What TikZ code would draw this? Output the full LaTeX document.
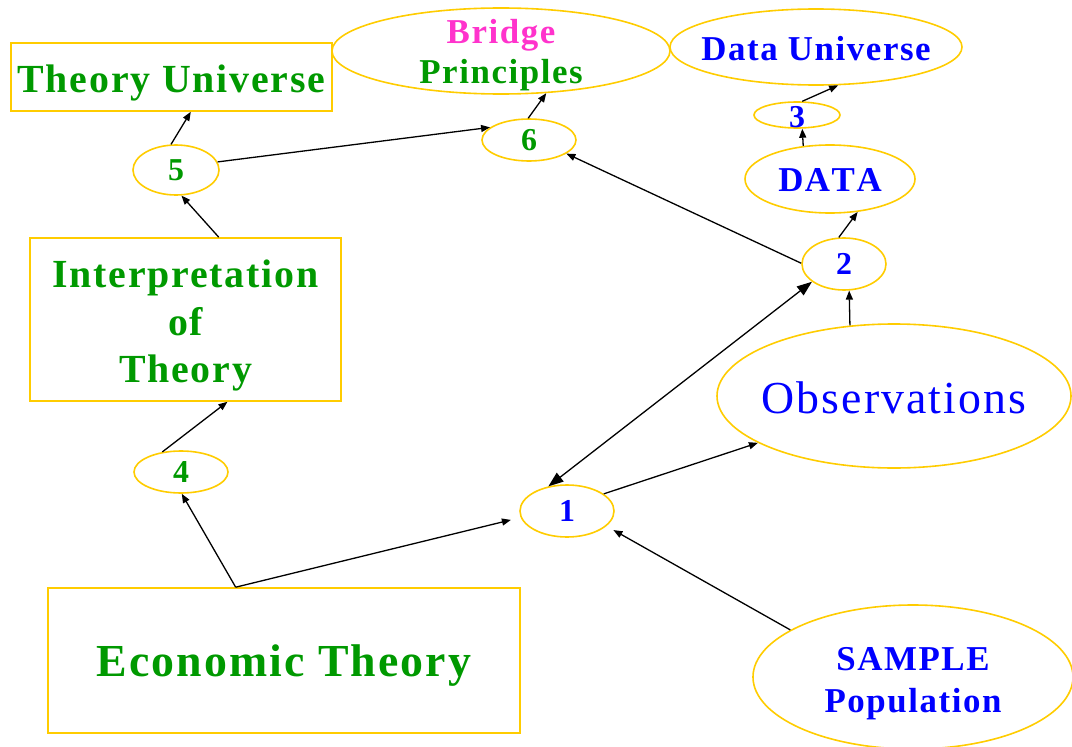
\documentclass[tikz,border=0pt]{standalone}
\usepackage{fontspec}
\setmainfont{Liberation Serif}[LetterSpace=4.5]
\usetikzlibrary{shapes.geometric,arrows.meta,calc}
\definecolor{ggreen}{HTML}{009900}
\definecolor{bblue}{HTML}{0000FF}
\definecolor{mmag}{HTML}{FF33CC}
\definecolor{ybord}{HTML}{FFCC00}
\begin{document}
\begin{tikzpicture}[x=1bp,y=-1bp,
  box/.style={draw=ybord, line width=1.6bp, rectangle, inner sep=0},
  oval/.style={draw=ybord, line width=1.6bp, ellipse, inner sep=0},
  arr/.style={draw=black, line width=1.3bp, -{Triangle[length=9bp,width=7bp]}},
  darr/.style={draw=black, line width=1.3bp, {Triangle[length=15bp,width=11bp]}-{Triangle[length=15bp,width=11bp]}},
  numfont/.style={font=\bfseries\fontsize{32}{32}\selectfont},
  midfont/.style={font=\bfseries\fontsize{35}{40}\selectfont, align=center},
]
\useasboundingbox (0,0) rectangle (1072,747);

% rectangles
\node[box, minimum width=321bp, minimum height=68bp,
      label={[text=ggreen, yshift=-6bp, font=\bfseries\fontsize{40}{44}\selectfont]center:Theory Universe}] (tu) at (171.5,77) {};
\node[box, minimum width=311bp, minimum height=163bp,
      label={[text=ggreen, yshift=-6bp, align=center, font=\bfseries\fontsize{40}{47.5}\selectfont]center:{Interpretation\\of\\Theory}}] (it) at (185.5,319.5) {};
\node[box, minimum width=472bp, minimum height=145bp,
      label={[text=ggreen, yshift=-5bp, font=\bfseries\fontsize{46}{50}\selectfont]center:Economic Theory}] (et) at (284,660.5) {};

% ellipses
\node[oval, minimum width=338bp, minimum height=86bp,
      label={[midfont, yshift=-4bp]center:{\textcolor{mmag}{Bridge}\\\textcolor{ggreen}{Principles}}}] (bp) at (501,51) {};
\node[oval, minimum width=292bp, minimum height=76bp,
      label={[midfont, text=bblue, yshift=-2bp]center:Data Universe}] (du) at (816,47) {};
\node[oval, minimum width=170bp, minimum height=68bp,
      label={[font=\bfseries\fontsize{35}{40}\selectfont\addfontfeature{Kerning=Off}, text=bblue, yshift=-1bp]center:DATA}] (data) at (830,179) {};
\node[oval, minimum width=354bp, minimum height=144bp,
      label={[font=\fontsize{46}{50}\selectfont, text=bblue, yshift=-2bp]center:Observations}] (obs) at (894,396) {};
\node[oval, minimum width=320bp, minimum height=144bp,
      label={[font=\bfseries\fontsize{35}{42}\selectfont, align=center, text=bblue, yshift=-7bp]center:{SAMPLE\\Population}}] (sp) at (913,677) {};

% numbered ellipses
\node[oval, minimum width=94bp, minimum height=52bp, label={[numfont, text=bblue]center:1}] (n1) at (567,511) {};
\node[oval, minimum width=84bp, minimum height=52bp, label={[numfont, text=bblue]center:2}] (n2) at (844,264) {};
\node[oval, minimum width=86bp, minimum height=26bp, label={[numfont, text=bblue, yshift=-2bp]center:3}] (n3) at (797,115) {};
\node[oval, minimum width=94bp, minimum height=42bp, label={[numfont, text=ggreen]center:4}] (n4) at (181,472) {};
\node[oval, minimum width=86bp, minimum height=50bp, label={[numfont, text=ggreen]center:5}] (n5) at (176,170) {};
\node[oval, minimum width=94bp, minimum height=42bp, label={[numfont, text=ggreen]center:6}] (n6) at (529,140) {};

\coordinate (etj) at ($(et.north west)!0.398!(et.north east)$);

% connectors
\draw[arr] (etj) -- (n4.-88);
\draw[arr, shorten >=10bp] (etj) -- (n1.188);
\draw[arr] (n4.133) -- (it.-63);
\draw[arr] (it.68) -- (n5.-78);
\draw[arr] (n5.101) -- (tu.-61);
\draw[arr] (n5.11) -- (n6.162);
\draw[arr] (n6.92) -- (bp.-43);
\draw[arr] (n2.179) -- (n6.-20);
\draw[darr] (n1.127) -- (n2.-151);
\draw[arr] (n1.25) -- (obs.-161);
\draw[arr] (obs.122) -- (n2.-79);
\draw[arr] (n2.101) -- (data.-50);
\draw[arr] (data.129) -- (n3.-69);
\draw[arr] (n3.69) -- (du.-60);
\draw[arr, shorten >=8bp] (sp.159) -- (n1.-21);
\end{tikzpicture}
\end{document}
